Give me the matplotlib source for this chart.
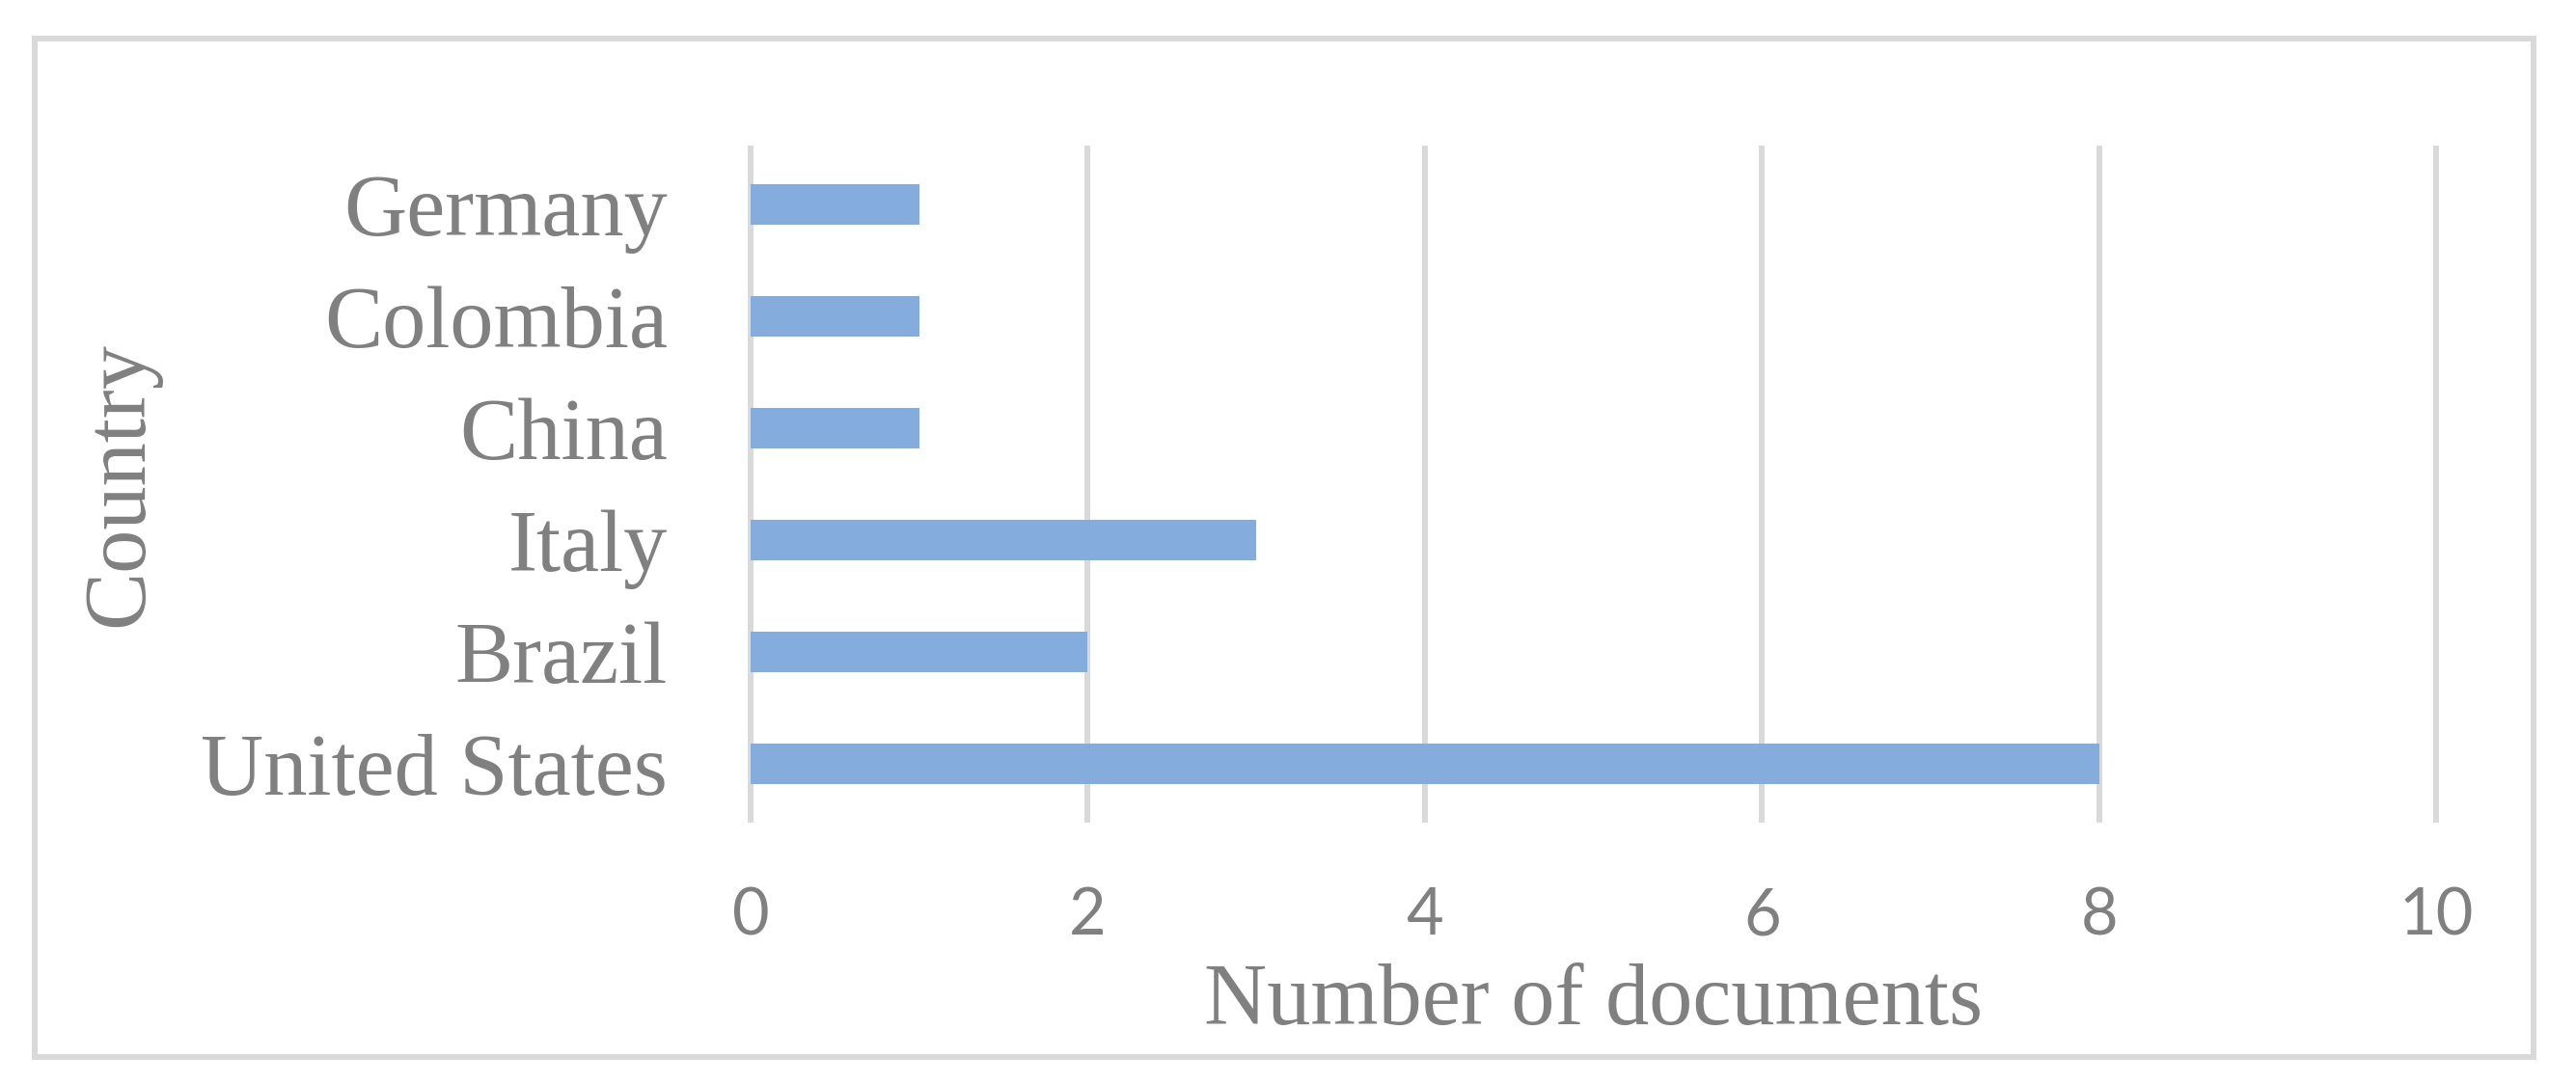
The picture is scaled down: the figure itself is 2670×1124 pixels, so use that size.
import matplotlib
matplotlib.use("Agg")
import matplotlib.pyplot as plt
from matplotlib.patches import Rectangle

# countries listed bottom -> top (barh draws first item at the bottom)
countries = ['United States', 'Brazil', 'Italy', 'China', 'Colombia', 'Germany']
documents = [8, 2, 3, 1, 1, 1]
x_ticks = [0, 2, 4, 6, 8, 10]

bar_color = '#84ACDD'
text_gray = '#808080'
grid_gray = '#D9D9D9'

fig = plt.figure(figsize=(26.7, 11.24), dpi=100)
ax = fig.add_axes([0.2914, 0.2438, 0.6543, 0.6192])

ax.barh(range(len(countries)), documents, height=0.36, color=bar_color, zorder=3)

ax.set_xlim(0, 10)
ax.set_ylim(-0.5, len(countries) - 0.5)
ax.set_xticks(x_ticks)
ax.set_xticklabels([str(t) for t in x_ticks], family='Lato', fontsize=48, color=text_gray)
ax.set_yticks(range(len(countries)))
ax.set_yticklabels(countries, family='Liberation Serif', fontsize=65, color=text_gray)
ax.tick_params(axis='both', length=0)
ax.tick_params(axis='x', pad=50)
ax.tick_params(axis='y', pad=62)

ax.grid(axis='x', color=grid_gray, linewidth=4.3, zorder=0)
ax.set_axisbelow(True)
# don't cut the 0 and 10 gridlines in half at the axes edge
for gl in ax.get_xgridlines():
    gl.set_clip_on(False)
for s in ax.spines.values():
    s.set_visible(False)

ax.set_xlabel('Number of documents', family='Liberation Serif', fontsize=65,
              color=text_gray, labelpad=12)
ax.set_ylabel('Country', family='Liberation Serif', fontsize=65,
              color=text_gray, labelpad=30)

# outer chart border
fig.patches.append(Rectangle((0.0135, 0.0249), 0.97, 0.9395, transform=fig.transFigure,
                             fill=False, edgecolor=grid_gray, linewidth=4.3))

fig.savefig('out.png', dpi=100, facecolor='white')
